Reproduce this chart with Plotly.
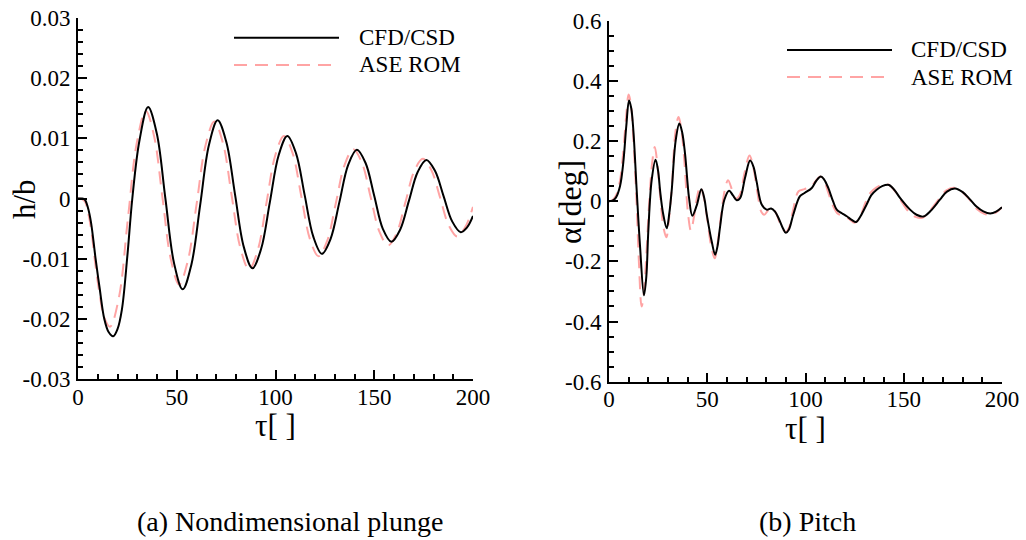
import plotly.graph_objects as go

# ---------------- data ----------------
tau_h_cfd = [0, 2, 3.5, 5, 6.6, 8.9, 11, 13.3, 15.5, 17.8, 20, 22.2, 25, 27.5, 31.1, 35.5,
             39.9, 44.25, 48.6, 53, 57.4, 61.85, 66.3, 70.7, 75.1, 79.5, 83.9, 88.3,
             92.7, 97.15, 101.6, 106, 110.4, 114.75, 119.1, 123.5, 127.9, 132.35, 136.8, 141.2,
             145.6, 149.95, 154.3, 158.7, 163.1, 167.55, 172.0, 176.4, 180.75, 185.1, 189.45, 193.8,
             197, 200]
h_cfd = [0, 0, -0.0002, -0.0015, -0.0040, -0.0100, -0.0150, -0.0200, -0.0222, -0.0229,
         -0.0217, -0.0185, -0.0095, 0.0000, 0.0096, 0.0152,
         0.0108, 0.0000, -0.0107, -0.0151, -0.0110, -0.0011, 0.0089, 0.0130,
         0.0094, 0.0007, -0.0080, -0.0116, -0.0084, -0.0006, 0.0072, 0.0104,
         0.0075, 0.0006, -0.0063, -0.0092, -0.0067, -0.0006, 0.0056, 0.0081,
         0.0059, 0.0005, -0.0050, -0.0072, -0.0052, -0.0004, 0.0044, 0.0064,
         0.0046, 0.0004, -0.0038, -0.0056, -0.0048, -0.0029]

tau_h_rom = [0, 2, 3.5, 5, 6.6, 8.9, 11, 13.3, 16.2, 20.7, 25.25, 29.8, 34.3,
             38.5, 42.75, 47.0, 51.2, 55.65, 60.1, 64.55, 69.0, 73.4, 77.8, 82.2, 86.6,
             91.0, 95.45, 99.9, 104.3, 108.7, 113.05, 117.4, 121.8, 126.2, 130.6, 135.0, 139.4,
             143.8, 148.2, 152.6, 157.0, 161.4, 165.8, 170.2, 174.6, 178.95, 183.3, 187.65, 192.0,
             196.0, 200]
h_rom = [0, -0.0001, -0.0005, -0.0022, -0.0050, -0.0112, -0.0160, -0.0198, -0.0213,
         -0.0165, -0.0034, 0.0093, 0.0146, 0.0104, 0.0002, -0.0101, -0.0143,
         -0.0103, -0.0008, 0.0088, 0.0128, 0.0092, 0.0005, -0.0082, -0.0118,
         -0.0086, -0.0007, 0.0072, 0.0104, 0.0075, 0.0004, -0.0067, -0.0096,
         -0.0070, -0.0007, 0.0056, 0.0082, 0.0059, 0.0002, -0.0055, -0.0078,
         -0.0057, -0.0006, 0.0045, 0.0066, 0.0047, 0.0002, -0.0044, -0.0063,
         -0.0048, -0.0014]

tau_a_cfd = [0, 2, 3.5, 5.6, 7.3, 8.8, 10.2, 11.3, 12.4, 14.1,
             15.8, 17.8, 19.0, 20.0, 21.7, 23.7, 25.0, 26.0, 27.5, 29.4,
             30.7, 31.9, 33.9, 35.8, 37.2, 38.7, 40.7, 42.4, 44.6, 47.0,
             48.5, 49.7, 52.3, 54.0, 55.2, 56.5, 58.7, 61.1, 63.0, 65.0,
             66.7, 69.2, 71.8, 73.5, 75.1, 77.7, 80.2, 82.5, 84.5, 86.2,
             88.5, 90.0, 91.5, 93.8, 97.2, 99.7, 103.2, 105.5, 107.8, 109.5,
             111.6, 114.0, 115.9, 118.5, 121.0, 123.5, 125.8, 128.0, 131.1, 133.5,
             136.2, 139.0, 142.5, 145.5, 148.1, 153.2, 156.5, 160.0, 164.0, 168.4,
             172.0, 176.1, 180.0, 183.7, 187.0, 190.5, 194.0, 197.0, 200.0]
a_cfd = [0, 0.003, 0.012, 0.050, 0.130, 0.250, 0.335, 0.310, 0.235, 0.035,
         -0.150, -0.313, -0.250, -0.100, 0.069, 0.138, 0.100, 0.035, -0.040, -0.090,
         -0.040, 0.035, 0.200, 0.258, 0.230, 0.157, 0.013, -0.048, -0.015, 0.040,
         0.010, -0.042, -0.135, -0.178, -0.150, -0.086, 0.005, 0.035, 0.020, 0.003,
         0.010, 0.077, 0.135, 0.115, 0.066, -0.011, -0.028, -0.024, -0.035, -0.055,
         -0.090, -0.105, -0.095, -0.044, 0.017, 0.028, 0.044, 0.068, 0.082, 0.072,
         0.044, 0.000, -0.028, -0.040, -0.050, -0.062, -0.069, -0.050, -0.011, 0.020,
         0.038, 0.050, 0.054, 0.035, 0.011, -0.028, -0.045, -0.051, -0.030, 0.005,
         0.032, 0.042, 0.030, 0.006, -0.018, -0.034, -0.041, -0.035, -0.020]

tau_a_rom = [0, 2, 3.5, 5.5, 7.2, 8.7, 10.0, 11.2, 12.3, 14.0,
             15.2, 16.6, 17.8, 19.0, 20.5, 22.0, 23.3, 24.5, 26.0, 27.8,
             29.2, 30.5, 32.0, 33.8, 35.4, 36.8, 38.5, 40.2, 41.7, 43.3,
             45.0, 46.4, 48.0, 50.0, 52.0, 53.8, 55.3, 57.0, 59.0, 60.6,
             62.5, 64.5, 66.5, 69.0, 71.5, 73.5, 75.5, 77.5, 79.0, 81.0,
             83.0, 85.0, 87.5, 90.0, 91.5, 93.5, 96.5, 99.5, 103.0, 105.5,
             107.5, 109.5, 111.5, 114.0, 116.5, 119.0, 122.0, 125.0, 127.5, 130.5,
             133.0, 136.0, 139.0, 142.0, 145.0, 148.0, 152.5, 156.0, 159.5, 163.5,
             168.0, 171.5, 175.5, 179.5, 183.5, 187.5, 191.0, 194.0, 197.0, 200.0]
a_rom = [0, 0.005, 0.018, 0.065, 0.160, 0.280, 0.355, 0.320, 0.220, 0.000,
         -0.200, -0.350, -0.300, -0.180, 0.000, 0.130, 0.180, 0.130, 0.020, -0.090,
         -0.120, -0.060, 0.050, 0.230, 0.280, 0.240, 0.120, -0.040, -0.098, -0.050,
         0.020, 0.050, 0.020, -0.060, -0.150, -0.190, -0.140, -0.050, 0.040, 0.070,
         0.040, 0.008, 0.020, 0.095, 0.152, 0.110, 0.030, -0.035, -0.045, -0.030,
         -0.022, -0.040, -0.080, -0.102, -0.090, -0.035, 0.033, 0.040, 0.050, 0.070,
         0.082, 0.068, 0.030, -0.015, -0.042, -0.048, -0.058, -0.072, -0.055, -0.005,
         0.028, 0.045, 0.055, 0.056, 0.038, 0.008, -0.035, -0.052, -0.055, -0.030,
         0.008, 0.035, 0.045, 0.032, 0.005, -0.028, -0.042, -0.045, -0.037, -0.020]

x_ticks = [0, 50, 100, 150, 200]
x_ticktext = ["0", "50", "100", "150", "200"]
h_ticks = [-0.03, -0.02, -0.01, 0, 0.01, 0.02, 0.03]
h_ticktext = ["-0.03", "-0.02", "-0.01", "0", "0.01", "0.02", "0.03"]
a_ticks = [-0.6, -0.4, -0.2, 0, 0.2, 0.4, 0.6]
a_ticktext = ["-0.6", "-0.4", "-0.2", "0", "0.2", "0.4", "0.6"]

series_names = ["CFD/CSD", "ASE ROM"]
captions = ["(a) Nondimensional plunge", "(b) Pitch"]

# ---------------- style ----------------
W, H = 1026, 540
FONT = "Liberation Serif, Times New Roman, serif"
BLACK = "#000000"
PINK = "#ffa4a4"
DASH = "13px,8px"


def px(x):
    return x / W


def py(y):
    return 1 - y / H


fig = go.Figure()

# pink (ROM) first so the black CFD/CSD curve is drawn on top
fig.add_trace(go.Scatter(x=tau_h_rom, y=h_rom, name=series_names[1], mode="lines",
                         line=dict(color=PINK, width=2, dash=DASH, shape="spline"),
                         xaxis="x", yaxis="y", showlegend=False))
fig.add_trace(go.Scatter(x=tau_h_cfd, y=h_cfd, name=series_names[0], mode="lines",
                         line=dict(color=BLACK, width=2, shape="spline"),
                         xaxis="x", yaxis="y", showlegend=False))
fig.add_trace(go.Scatter(x=tau_a_rom, y=a_rom, name=series_names[1], mode="lines",
                         line=dict(color=PINK, width=2, dash=DASH, shape="spline"),
                         xaxis="x2", yaxis="y2", showlegend=False))
fig.add_trace(go.Scatter(x=tau_a_cfd, y=a_cfd, name=series_names[0], mode="lines",
                         line=dict(color=BLACK, width=2, shape="spline"),
                         xaxis="x2", yaxis="y2", showlegend=False))

tickfont = dict(family=FONT, size=23, color=BLACK)


def xaxis_style(domain, anchor):
    return dict(domain=domain, anchor=anchor, range=[0, 200], automargin=False,
                tickmode="array", tickvals=x_ticks, ticktext=x_ticktext,
                ticks="inside", ticklen=9, tickwidth=1.5, tickcolor=BLACK,
                ticklabelstandoff=-4,
                minor=dict(dtick=10, tick0=0, ticks="inside", ticklen=5,
                           tickwidth=1.5, tickcolor=BLACK, showgrid=False),
                showline=True, linewidth=2, linecolor=BLACK, mirror=False,
                showgrid=False, zeroline=False, tickfont=tickfont)


def yaxis_style(domain, anchor, rng, tv, tt, minor_dt):
    return dict(domain=domain, anchor=anchor, range=rng, automargin=False,
                tickmode="array", tickvals=tv, ticktext=tt,
                ticks="inside", ticklen=9, tickwidth=1.5, tickcolor=BLACK,
                ticklabelstandoff=1,
                minor=dict(dtick=minor_dt, tick0=0, ticks="inside", ticklen=5,
                           tickwidth=1.5, tickcolor=BLACK, showgrid=False),
                showline=True, linewidth=2, linecolor=BLACK, mirror=False,
                showgrid=False, zeroline=False, tickfont=tickfont)


fig.update_layout(
    template="none",
    width=W, height=H, autosize=False,
    margin=dict(l=0, r=0, t=0, b=0, pad=0, autoexpand=False),
    paper_bgcolor="white", plot_bgcolor="white",
    font=dict(family=FONT, color=BLACK),
    xaxis=xaxis_style([px(78), px(473)], "y"),
    yaxis=yaxis_style([py(379), py(18)], "x", [-0.03, 0.03], h_ticks, h_ticktext, 0.002),
    xaxis2=xaxis_style([px(609), px(1002)], "y2"),
    yaxis2=yaxis_style([py(381.7), py(20.7)], "x2", [-0.6, 0.6], a_ticks, a_ticktext, 0.05),
)

ann = []
shapes = []


def text(x, y, s, size, anchor="center", angle=0):
    ann.append(dict(x=px(x), y=py(y), xref="paper", yref="paper", text=s,
                    showarrow=False, xanchor=anchor, yanchor="middle", textangle=angle,
                    font=dict(family=FONT, size=size, color=BLACK)))


# axis titles
text(25, 199, "h/b", 31, angle=-90)
text(275, 425, "τ[ ]", 31)
text(570, 202, "α[deg]", 32, angle=-90)
text(805, 428, "τ[ ]", 31)

# legends (drawn keys + labels)
for (x0, x1, xt, y1, y2) in [(234, 339, 357, 37.7, 65), (787, 892, 909, 50, 77)]:
    shapes.append(dict(type="line", xref="paper", yref="paper",
                       x0=px(x0), x1=px(x1), y0=py(y1), y1=py(y1),
                       line=dict(color=BLACK, width=2)))
    shapes.append(dict(type="line", xref="paper", yref="paper",
                       x0=px(x0), x1=px(x1), y0=py(y2), y1=py(y2),
                       line=dict(color=PINK, width=2, dash=DASH)))
    text(xt, y1, series_names[0], 23, anchor="left")
    text(xt, y2, series_names[1], 23, anchor="left")

# captions
text(290, 521, captions[0], 28)
text(807, 521, captions[1], 28)

fig.update_layout(annotations=ann, shapes=shapes)

fig.write_html("out.html")
